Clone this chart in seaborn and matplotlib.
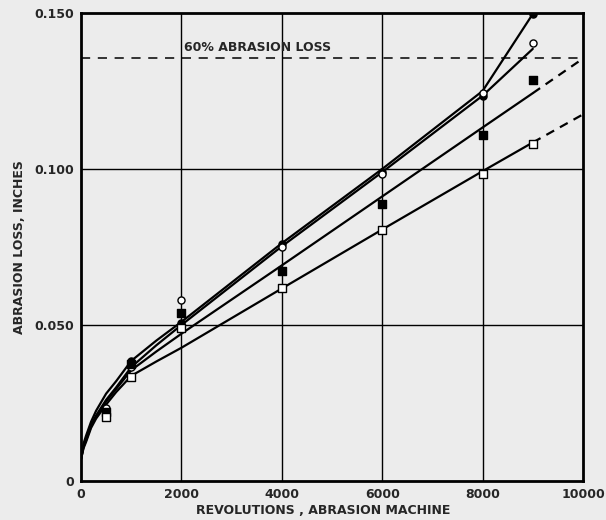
import numpy as np
import pandas as pd
import matplotlib
matplotlib.use('Agg')
import matplotlib.pyplot as plt
import seaborn as sns

# fitted curves (revolutions, inches)
curve_x = [0, 50, 100, 200, 300, 500, 700, 1000, 1500, 2000, 4000, 6000, 8000, 9000]
curve_a = [0.007, 0.012, 0.0145, 0.019, 0.0225, 0.028, 0.032, 0.0385, 0.045, 0.0510, 0.0762, 0.1000, 0.1250, 0.1497]
curve_b = [0.007, 0.011, 0.0135, 0.018, 0.021, 0.026, 0.030, 0.0365, 0.0435, 0.0500, 0.0752, 0.0990, 0.1235, 0.1385]
curve_c = [0.007, 0.011, 0.013, 0.0175, 0.0205, 0.0255, 0.0295, 0.0355, 0.0415, 0.0472, 0.0691, 0.0912, 0.1133, 0.1243]
curve_d = [0.007, 0.0105, 0.0125, 0.017, 0.020, 0.0245, 0.0285, 0.0337, 0.0383, 0.0427, 0.0617, 0.0806, 0.0993, 0.1085]

# dashed extrapolations
ext_x = [9000, 10000]
ext_c = [0.1243, 0.1354]
ext_d = [0.1085, 0.1175]

# measured points
pts_x = [500, 1000, 2000, 4000, 6000, 8000, 9000]
filled_circle = [0.0222, 0.0385, 0.0505, 0.0760, 0.0990, 0.1235, 0.1497]
open_circle = [0.0234, 0.0365, 0.0580, 0.0749, 0.0985, 0.1245, 0.1405]
filled_square = [0.0220, 0.0375, 0.0537, 0.0672, 0.0889, 0.1110, 0.1286]
open_square = [0.0205, 0.0333, 0.0490, 0.0620, 0.0806, 0.0985, 0.1080]

limit_60 = 0.1355
x_ticks = [0, 2000, 4000, 6000, 8000, 10000]
y_ticks = [0, 0.050, 0.100, 0.150]
y_labels = ['0', '0.050', '0.100', '0.150']

bg = '#ececec'
sns.set_style('white')
plt.rcParams['font.family'] = ['DejaVu Sans']

fig = plt.figure(figsize=(6.06, 5.2), dpi=100, facecolor=bg)
ax = fig.add_axes([0.1337, 0.075, 0.8283, 0.90])
ax.set_facecolor(bg)

# grid (interior lines only)
for gx in x_ticks[1:-1]:
    ax.axvline(gx, color='black', lw=1.0, zorder=1)
for gy in y_ticks[1:-1]:
    ax.axhline(gy, color='black', lw=1.0, zorder=1)

ax.axhline(limit_60, color='black', lw=1.1, ls=(0, (6, 5)), zorder=1)
ax.text(2050, limit_60 + 0.0015, '60% ABRASION LOSS', fontsize=9,
        fontweight='bold', va='bottom', ha='left')

for cy in [curve_a, curve_b, curve_c, curve_d]:
    sns.lineplot(x=curve_x, y=cy, color='black', lw=1.6, ax=ax, zorder=2)
for ey in [ext_c, ext_d]:
    sns.lineplot(x=ext_x, y=ey, color='black', lw=1.6, ax=ax, zorder=2,
                 linestyle=(0, (4, 3)))

series = [
    (filled_circle, 'o', 'black'),
    (open_circle, 'o', 'white'),
    (filled_square, 's', 'black'),
    (open_square, 's', 'white'),
]
for vals, mk, fc in series:
    sns.scatterplot(x=pts_x, y=vals, marker=mk, s=26, facecolor=fc,
                    edgecolor='black', linewidth=1.0, ax=ax, zorder=3)

ax.set_xlim(0, 10000)
ax.set_ylim(0, 0.150)
ax.set_xticks(x_ticks)
ax.set_xticklabels([str(t) for t in x_ticks])
ax.set_yticks(y_ticks)
ax.set_yticklabels(y_labels)
ax.tick_params(length=0, labelsize=9, pad=5)
for lab in ax.get_xticklabels() + ax.get_yticklabels():
    lab.set_fontweight('bold')

for sp in ax.spines.values():
    sp.set_visible(True)
    sp.set_color('black')
    sp.set_linewidth(2.0)

ax.set_xlabel('REVOLUTIONS , ABRASION MACHINE', fontsize=9, fontweight='bold', labelpad=2)
ax.xaxis.label.set_x(0.482)
ax.set_ylabel('ABRASION LOSS, INCHES', fontsize=9, fontweight='bold', labelpad=6)

fig.savefig('out.png', dpi=100, facecolor=bg)
